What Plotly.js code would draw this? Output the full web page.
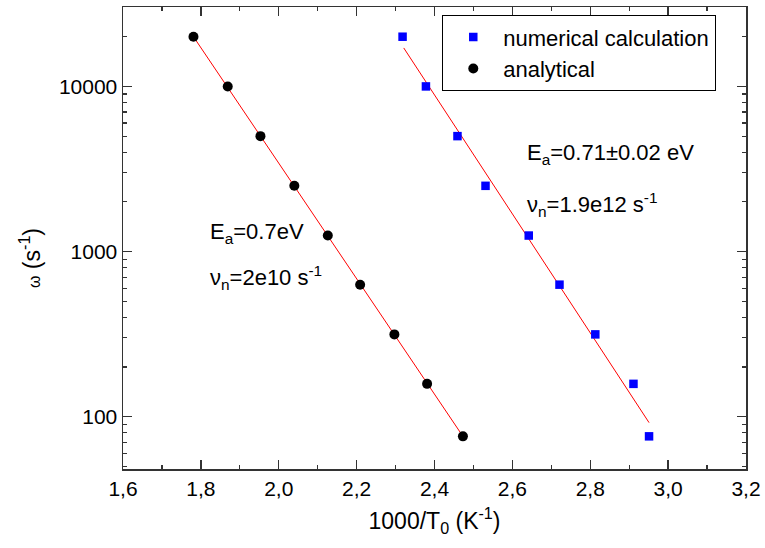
<!DOCTYPE html>
<html>
<head>
<meta charset="utf-8">
<script src="https://cdn.plot.ly/plotly-3.0.1.min.js"></script>
<style>html,body{margin:0;padding:0;background:#fff;}#chart{width:765px;height:548px;}</style>
</head>
<body>
<div id="chart"></div>
<script>
// Data
var analyticalX = [1.781, 1.869, 1.953, 2.040, 2.126, 2.209, 2.297, 2.381, 2.473];
var analyticalY = [20000, 10000, 5000, 2500, 1250, 630, 315, 158, 76];
var numericalX = [2.318, 2.378, 2.459, 2.531, 2.642, 2.721, 2.813, 2.911, 2.951];
var numericalY = [20000, 10000, 5000, 2500, 1250, 630, 315, 158, 76];
var fitAnalyticalX = [1.781, 2.473];
var fitAnalyticalY = [20000, 76];
var fitNumericalX = [2.321, 2.951];
var fitNumericalY = [17100, 92];
var xTickVals = [1.6, 1.8, 2.0, 2.2, 2.4, 2.6, 2.8, 3.0, 3.2];
var xTickText = ["1,6", "1,8", "2,0", "2,2", "2,4", "2,6", "2,8", "3,0", "3,2"];
var yTickVals = [100, 1000, 10000];
var yTickText = ["100", "1000", "10000"];
var yMinorVals = [50,60,70,80,90,200,300,400,500,600,700,800,900,2000,3000,4000,5000,6000,7000,8000,9000,20000,30000];

var font = "Liberation Sans, Arial, sans-serif";

var traces = [
  {x: fitAnalyticalX, y: fitAnalyticalY, mode: 'lines', line: {color: '#ff0000', width: 1}, showlegend: false, hoverinfo: 'skip'},
  {x: fitNumericalX, y: fitNumericalY, mode: 'lines', line: {color: '#ff0000', width: 1}, showlegend: false, hoverinfo: 'skip'},
  {x: numericalX, y: numericalY, mode: 'markers', name: 'numerical calculation',
   marker: {symbol: 'square', size: 8.5, color: '#0000ff'}},
  {x: analyticalX, y: analyticalY, mode: 'markers', name: 'analytical',
   marker: {symbol: 'circle', size: 10, color: '#000000'}}
];

var layout = {
  width: 765, height: 548,
  margin: {l: 123, r: 19, t: 7, b: 79},
  paper_bgcolor: '#ffffff', plot_bgcolor: '#ffffff',
  font: {family: font, size: 21, color: '#000'},
  showlegend: true,
  legend: {
    x: 0.512, y: 0.983, xanchor: 'left', yanchor: 'top',
    bordercolor: '#000', borderwidth: 1.3, bgcolor: '#fff',
    font: {family: font, size: 22, color: '#000'},
    itemwidth: 50, tracegroupgap: 0
  },
  xaxis: {
    range: [1.6, 3.2],
    tickmode: 'array', tickvals: xTickVals, ticktext: xTickText,
    ticks: 'inside', ticklen: 9, tickwidth: 1.3, tickcolor: '#333',
    showline: true, linecolor: '#333', linewidth: 1.5, mirror: 'ticks',
    showgrid: false, zeroline: false,
    tickfont: {family: font, size: 21, color: '#000'},
    minor: {tickmode: 'linear', tick0: 1.6, dtick: 0.1, ticks: 'inside', ticklen: 4, tickwidth: 1.2, tickcolor: '#333', showgrid: false},
    title: {text: '1000/T<sub>0</sub> (K<sup>-1</sup>)', font: {family: font, size: 23, color: '#000'}, standoff: 14}
  },
  yaxis: {
    type: 'log', range: [1.683, 4.481],
    tickmode: 'array', tickvals: yTickVals, ticktext: yTickText,
    ticks: 'inside', ticklen: 9, tickwidth: 1.3, tickcolor: '#333',
    showline: true, linecolor: '#333', linewidth: 1.5, mirror: 'ticks',
    showgrid: false, zeroline: false,
    tickfont: {family: font, size: 21, color: '#000'},
    minor: {tickmode: 'array', tickvals: yMinorVals, ticks: 'inside', ticklen: 4, tickwidth: 1.2, tickcolor: '#333', showgrid: false},
    title: {text: ''}
  },
  annotations: [
    {x: -0.149, y: 0.457, xref: 'paper', yref: 'paper', xanchor: 'center', yanchor: 'middle', showarrow: false,
     textangle: -90, text: '<span style="font-size:16px">ω</span> (s<sup>-1</sup>)', font: {family: font, size: 23, color: '#000'}},
    {x: 1.819, y: Math.log10(1291), xref: 'x', yref: 'y', xanchor: 'left', yanchor: 'middle', showarrow: false,
     text: 'E<sub>a</sub>=0.7eV', font: {family: font, size: 22, color: '#000'}},
    {x: 1.819, y: Math.log10(700), xref: 'x', yref: 'y', xanchor: 'left', yanchor: 'middle', showarrow: false,
     text: 'ν<sub>n</sub>=2e10 s<sup>-1</sup>', font: {family: font, size: 22, color: '#000'}},
    {x: 2.633, y: Math.log10(3908), xref: 'x', yref: 'y', xanchor: 'left', yanchor: 'middle', showarrow: false,
     text: 'E<sub>a</sub>=0.71±0.02 eV', font: {family: font, size: 22, color: '#000'}},
    {x: 2.633, y: Math.log10(1919), xref: 'x', yref: 'y', xanchor: 'left', yanchor: 'middle', showarrow: false,
     text: 'ν<sub>n</sub>=1.9e12 s<sup>-1</sup>', font: {family: font, size: 22, color: '#000'}}
  ]
};

Plotly.newPlot('chart', traces, layout, {displayModeBar: false, staticPlot: true});
</script>
</body>
</html>
